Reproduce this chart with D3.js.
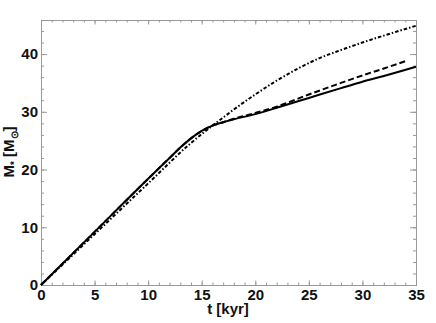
<!DOCTYPE html>
<html>
<head>
<meta charset="utf-8">
<script src="https://cdn.jsdelivr.net/npm/d3@7"></script>
<style>
  body { margin: 0; background: #fff; }
  text { font-family: "Liberation Sans", Arial, sans-serif; font-weight: bold; }
</style>
</head>
<body>
<div id="chart"></div>
<script>
// chart data
var tSolid = [0, 5, 10, 12, 13, 14, 15, 16, 17, 18, 20, 22, 25, 28, 30, 32, 35];
var mSolid = [0, 9.2, 18.4, 22.0, 23.8, 25.4, 26.7, 27.6, 28.2, 28.7, 29.6, 30.7, 32.4, 34.1, 35.2, 36.2, 37.8];

var tDashed = [0, 5, 10, 12, 13, 14, 15, 16, 17, 18, 20, 22, 25, 28, 30, 32, 34.2];
var mDashed = [0, 9.2, 18.4, 22.0, 23.8, 25.4, 26.7, 27.6, 28.2, 28.8, 29.8, 30.9, 33.0, 35.0, 36.3, 37.5, 38.9];

var tDotDash = [0, 5, 10, 14, 16, 17, 18, 20, 22, 24, 26, 28, 30, 32, 35];
var mDotDash = [0, 8.8, 17.6, 24.6, 27.6, 29.0, 30.4, 33.0, 35.4, 37.5, 39.3, 40.7, 42.0, 43.2, 44.9];

var xTicks = [0, 5, 10, 15, 20, 25, 30, 35];
var yTicks = [0, 10, 20, 30, 40];

var svgWidth = 436;
var svgHeight = 323;
var margin = { top: 20, right: 20, bottom: 38, left: 41 };
var width = svgWidth - margin.left - margin.right;
var height = svgHeight - margin.top - margin.bottom;

var svg = d3.select("#chart")
    .append("svg")
    .attr("width", svgWidth)
    .attr("height", svgHeight);

var g = svg.append("g")
    .attr("transform", `translate(${margin.left}, ${margin.top})`);

var x = d3.scaleLinear().domain([0, 35]).range([0, width]);
var y = d3.scaleLinear().domain([0, 45.9]).range([height, 0]);

var frameColor = "#999";

// minor ticks, all four sides
var xMinor = d3.range(0, 35.01, 1);
var yMinor = d3.range(0, 45.9, 2);

// bottom
g.append("g").attr("transform", `translate(0, ${height})`)
    .call(d3.axisBottom(x).tickValues(xMinor).tickSize(-2.5).tickFormat(""));
g.append("g").attr("transform", `translate(0, ${height})`)
    .call(d3.axisBottom(x).tickValues(xTicks).tickSize(-4.5).tickPadding(4).tickFormat(d3.format("d")));
// top
g.append("g").call(d3.axisTop(x).tickValues(xMinor).tickSize(-2.5).tickFormat(""));
g.append("g").call(d3.axisTop(x).tickValues(xTicks).tickSize(-4.5).tickFormat(""));
// left
g.append("g").call(d3.axisLeft(y).tickValues(yMinor).tickSize(-3).tickFormat(""));
g.append("g").call(d3.axisLeft(y).tickValues(yTicks).tickSize(-6).tickPadding(3).tickFormat(d3.format("d")));
// right
g.append("g").attr("transform", `translate(${width}, 0)`)
    .call(d3.axisRight(y).tickValues(yMinor).tickSize(-3).tickFormat(""));
g.append("g").attr("transform", `translate(${width}, 0)`)
    .call(d3.axisRight(y).tickValues(yTicks).tickSize(-6).tickFormat(""));

g.selectAll(".domain").attr("stroke", frameColor);
g.selectAll(".tick line").attr("stroke", frameColor);
g.selectAll(".tick text")
    .attr("fill", "#111")
    .style("font-size", "15px")
    .style("font-family", "'Liberation Sans', Arial, sans-serif")
    .style("font-weight", "bold");

// curves
var line = d3.line()
    .x(d => x(d[0]))
    .y(d => y(d[1]))
    .curve(d3.curveMonotoneX);

function pairs(ts, ms) { return ts.map((t, i) => [t, ms[i]]); }

g.append("path")
    .datum(pairs(tDotDash, mDotDash))
    .attr("d", line)
    .attr("fill", "none")
    .attr("stroke", "#000")
    .attr("stroke-width", 2)
    .attr("stroke-dasharray", "3.5,2,1.5,2");

g.append("path")
    .datum(pairs(tDashed, mDashed))
    .attr("d", line)
    .attr("fill", "none")
    .attr("stroke", "#000")
    .attr("stroke-width", 2)
    .attr("stroke-dasharray", "6,3");

g.append("path")
    .datum(pairs(tSolid, mSolid))
    .attr("d", line)
    .attr("fill", "none")
    .attr("stroke", "#000")
    .attr("stroke-width", 2);

// axis labels
svg.append("text")
    .attr("x", 228)
    .attr("y", 314)
    .attr("text-anchor", "middle")
    .style("font-size", "15px")
    .attr("fill", "#111")
    .text("t [kyr]");

var yl = svg.append("text")
    .attr("transform", "translate(14, 152) rotate(-90)")
    .attr("text-anchor", "middle")
    .style("font-size", "15px")
    .attr("fill", "#111");
yl.append("tspan").text("M");
yl.append("tspan").attr("dy", 4).style("font-size", "10px").text("*");
yl.append("tspan").attr("dy", -4).text(" [M");
yl.append("tspan").attr("dy", 4).style("font-size", "10px").text("⊙");
yl.append("tspan").attr("dy", -4).text("]");
</script>
</body>
</html>
